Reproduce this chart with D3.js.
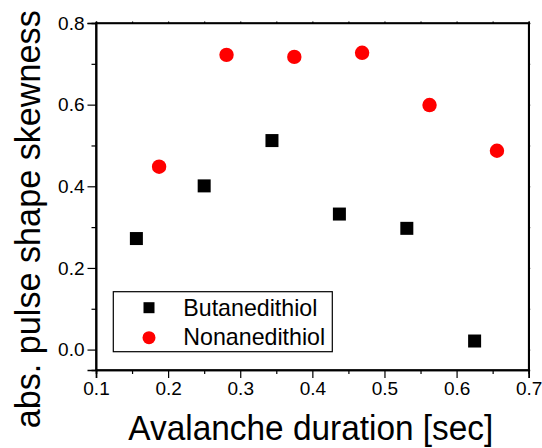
<!DOCTYPE html>
<html>
<head>
<meta charset="utf-8">
<script src="https://cdn.jsdelivr.net/npm/d3@7"></script>
<style>
  html, body { margin: 0; padding: 0; background: #fff; }
  svg { display: block; font-family: "Liberation Sans", Arial, Helvetica, sans-serif; }
</style>
</head>
<body>
<svg id="chart" width="542" height="448"></svg>
<script>
// ---- data ----
const seriesNames = ["Butanedithiol", "Nonanedithiol"];
const butaneX = [0.156, 0.25, 0.344, 0.4375, 0.531, 0.625];
const butaneY = [0.272, 0.401, 0.512, 0.332, 0.297, 0.021];
const nonaneX = [0.1875, 0.281, 0.375, 0.469, 0.5625, 0.656];
const nonaneY = [0.448, 0.722, 0.717, 0.727, 0.599, 0.487];
const xMajorTicks = [0.1, 0.2, 0.3, 0.4, 0.5, 0.6, 0.7];
const xMinorTicks = [0.15, 0.25, 0.35, 0.45, 0.55, 0.65];
const yMajorTicks = [0.0, 0.2, 0.4, 0.6, 0.8];
const yMinorTicks = [0.1, 0.3, 0.5, 0.7];
const xTitle = "Avalanche duration [sec]";
const yTitle = "abs. pulse shape skewness";

// ---- layout ----
const FONT = "'Liberation Sans', Arial, Helvetica, sans-serif";
const L = 96, R = 528.7, T = 23, B = 370;
const svg = d3.select("#chart");
const x = d3.scaleLinear().domain([0.1, 0.7]).range([L, R]);
const y = d3.scaleLinear().domain([-0.05, 0.8]).range([B, T]);

const fmt = d3.format(".1f");

// bottom axis
svg.append("g").attr("transform", `translate(0,${B})`)
  .call(d3.axisBottom(x).tickValues(xMajorTicks).tickFormat(fmt).tickSize(8).tickPadding(4));
svg.append("g").attr("transform", `translate(0,${B})`)
  .call(d3.axisBottom(x).tickValues(xMinorTicks).tickFormat("").tickSize(4));
// left axis
svg.append("g").attr("transform", `translate(${L},0)`)
  .call(d3.axisLeft(y).tickValues(yMajorTicks).tickFormat(fmt).tickSize(8.5).tickPadding(3));
svg.append("g").attr("transform", `translate(${L},0)`)
  .call(d3.axisLeft(y).tickValues(yMinorTicks).tickFormat("").tickSize(4.5));
// top axis (tiny ticks)
svg.append("g").attr("transform", `translate(0,${T})`)
  .call(d3.axisTop(x).tickValues(xMajorTicks.concat(xMinorTicks)).tickFormat("").tickSize(1.5));
// right axis (tiny ticks)
svg.append("g").attr("transform", `translate(${R},0)`)
  .call(d3.axisRight(y).tickValues(yMajorTicks.concat(yMinorTicks)).tickFormat("").tickSize(1.5));

svg.selectAll("g").attr("font-family", FONT);
svg.selectAll(".domain").attr("stroke", "#000").attr("stroke-width", 1.6);
svg.selectAll(".tick line").attr("stroke", "#000").attr("stroke-width", 1.2);
svg.selectAll(".tick text").attr("font-size", 19).attr("fill", "#000").attr("font-family", FONT);

// full frame
svg.append("rect").attr("x", L).attr("y", T).attr("width", R - L).attr("height", B - T)
  .attr("fill", "none").attr("stroke", "#000").attr("stroke-width", 1.6);

// ---- data marks ----
const butane = butaneX.map((v, i) => ({ x: v, y: butaneY[i] }));
const nonane = nonaneX.map((v, i) => ({ x: v, y: nonaneY[i] }));
const sq = 13;
svg.append("g").selectAll("rect").data(butane).join("rect")
  .attr("x", d => x(d.x) - sq / 2).attr("y", d => y(d.y) - sq / 2)
  .attr("width", sq).attr("height", sq).attr("fill", "#000");
svg.append("g").selectAll("circle").data(nonane).join("circle")
  .attr("cx", d => x(d.x)).attr("cy", d => y(d.y)).attr("r", 7.2).attr("fill", "#ff0000");

// ---- legend ----
const lg = svg.append("g").attr("font-family", FONT);
lg.append("rect").attr("x", 113.3).attr("y", 291.7).attr("width", 219).attr("height", 60)
  .attr("fill", "#fff").attr("stroke", "#000").attr("stroke-width", 1.2);
lg.append("rect").attr("x", 149 - 5.5).attr("y", 307.7 - 5.5).attr("width", 11).attr("height", 11).attr("fill", "#000");
lg.append("circle").attr("cx", 149).attr("cy", 337.7).attr("r", 6.5).attr("fill", "#ff0000");
lg.append("text").attr("x", 183.3).attr("y", 315.7).attr("font-size", 23.2).text(seriesNames[0]);
lg.append("text").attr("x", 183.3).attr("y", 345).attr("font-size", 23.2).text(seriesNames[1]);

// ---- axis titles ----
svg.append("text").attr("x", 128.3).attr("y", 440).attr("font-size", 33.4)
  .attr("font-family", FONT)
  .attr("transform", "translate(128.3,440) scale(1,1.05) translate(-128.3,-440)")
  .text(xTitle);
svg.append("text").attr("transform", "translate(39.5,428.3) rotate(-90) scale(1,1.05)")
  .attr("font-family", FONT)
  .attr("font-size", 34.2).text(yTitle);
</script>
</body>
</html>
